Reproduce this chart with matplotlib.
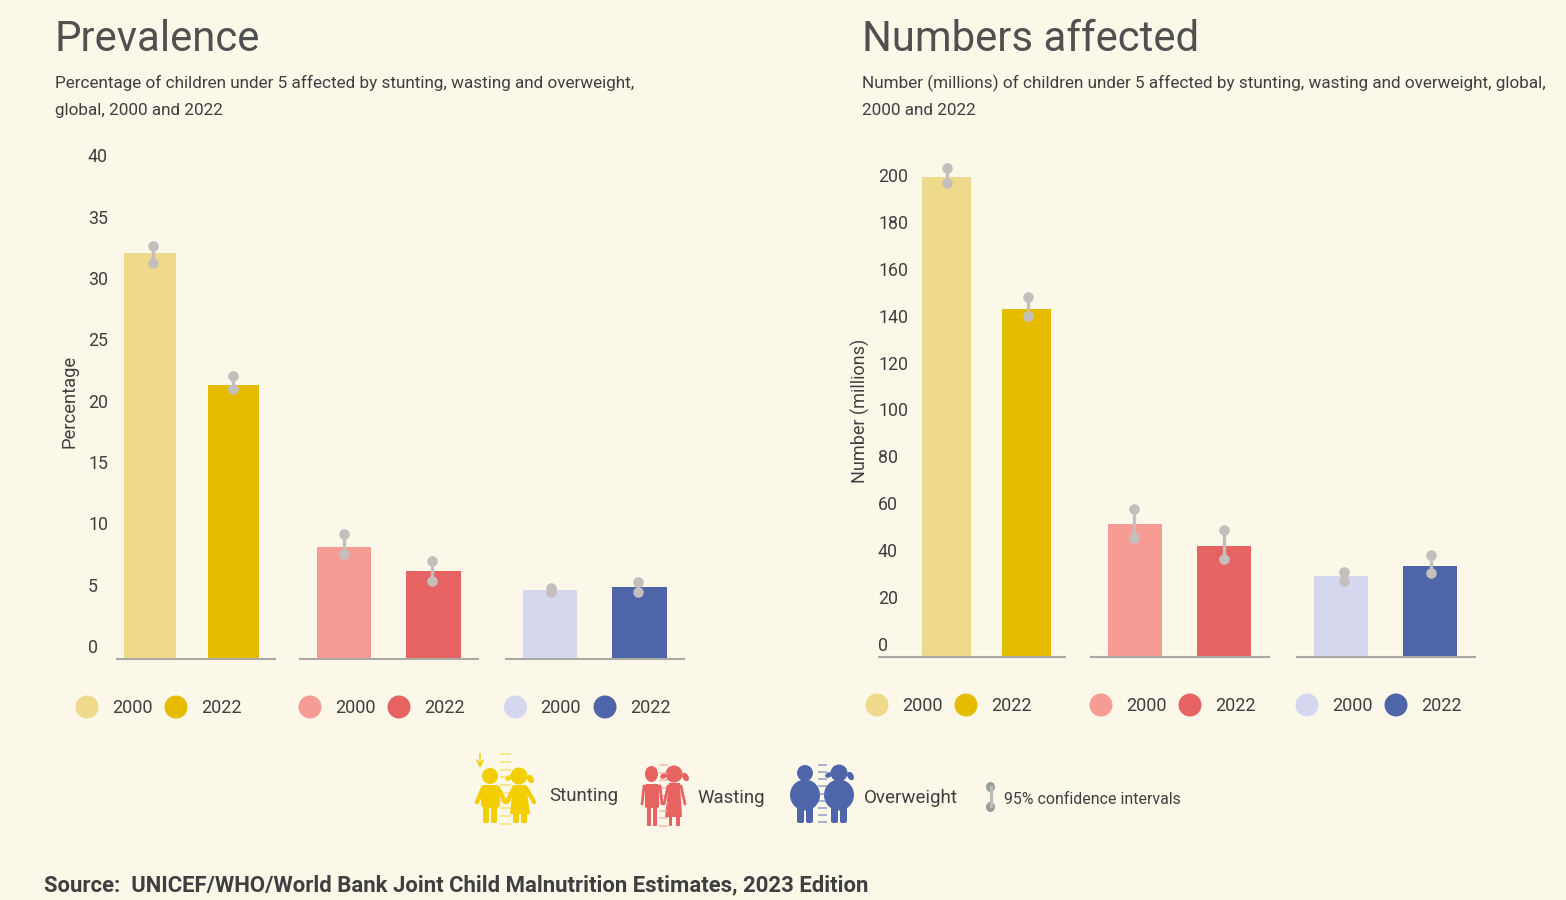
import matplotlib
matplotlib.use('Agg')
import matplotlib.pyplot as plt
from matplotlib.patches import Circle, Ellipse, Polygon, FancyBboxPatch
from matplotlib.transforms import ScaledTranslation

W, H = 1566, 900
BG = '#FBF8EA'
TXT = '#3F3F3F'
plt.rcParams['font.family'] = ['Roboto', 'DejaVu Sans']

years = ['2000', '2022']
colors = ['#EFD98A', '#E5BC00', '#F69C95', '#E66362', '#D5D7EE', '#4F65A9']

prev_values = [33.1, 22.35, 9.13, 7.17, 5.62, 5.87]
prev_hi = [33.65, 23.1, 10.2, 7.95, 5.75, 6.3]
prev_lo = [32.3, 22.0, 8.55, 6.35, 5.5, 5.45]
prev_ticks = [0, 5, 10, 15, 20, 25, 30, 35, 40]

num_values = [204.7, 148.4, 56.7, 47.3, 34.5, 38.8]
num_hi = [208.5, 153.5, 63.0, 54.0, 36.2, 43.5]
num_lo = [202.0, 145.4, 50.7, 42.0, 32.5, 35.8]
num_ticks = [0, 20, 40, 60, 80, 100, 120, 140, 160, 180, 200]

fig = plt.figure(figsize=(W / 100, H / 100), dpi=100, facecolor=BG)


def make_axes(x0, x1, ytop, ybot, scale):
    ax = fig.add_axes([x0 / W, 1 - ybot / H, (x1 - x0) / W, (ybot - ytop) / H])
    ax.set_xlim(x0, x1)
    ax.set_ylim(0, (ybot - ytop) / scale)
    ax.patch.set_alpha(0)
    for s in ax.spines.values():
        s.set_visible(False)
    ax.set_xticks([])
    return ax


def panel(ax, values, hi, lo, ticks, centers, widths, ci_x, segments, label_off):
    ax.bar(centers, values, width=widths, color=colors, linewidth=0, zorder=2)
    for a, b in segments:
        ax.plot([a, b], [0, 0], color='#ABA9A3', lw=1.5, solid_capstyle='butt', zorder=3, clip_on=False)
    ax.vlines(ci_x, lo, hi, color='#C4BFBD', lw=2.4, zorder=4)
    ax.scatter(ci_x + ci_x, hi + lo, s=58, color='#C4BFBD', linewidths=0, zorder=5, clip_on=False)
    ax.set_yticks(ticks)
    ax.set_yticklabels([str(t) for t in ticks])
    ax.tick_params(axis='y', length=0, pad=0, labelsize=12.8, labelcolor=TXT)
    off = ScaledTranslation(0, label_off / 100, fig.dpi_scale_trans)
    for lab in ax.get_yticklabels():
        lab.set_ha('left')
        lab.set_va('center')
        lab.set_transform(lab.get_transform() + off)


ax1 = make_axes(88, 700, 140, 659, 12.27)
panel(ax1, prev_values, prev_hi, prev_lo, prev_ticks,
      [150, 233.5, 344, 433.5, 550, 639.5], [52, 51, 54, 55, 54, 55],
      [152.5, 233, 344, 432, 551, 638],
      [(116, 276), (299, 479), (505, 685)], 11)

ax2 = make_axes(878, 1490, 150, 657, 2.345)
panel(ax2, num_values, num_hi, num_lo, num_ticks,
      [946.5, 1026.5, 1135, 1224, 1341, 1430], [49, 49, 54, 54, 54, 54],
      [947, 1028, 1134, 1224, 1344, 1431],
      [(878, 1066), (1090, 1270), (1296, 1476)], 11)

# overlay in pixel coordinates
ov = fig.add_axes([0, 0, 1, 1], zorder=10)
ov.set_xlim(0, W)
ov.set_ylim(H, 0)
ov.axis('off')
ov.patch.set_alpha(0)

ov.text(54, 51, 'Prevalence', fontsize=30.2, color='#505050', va='baseline')
ov.text(862, 51, 'Numbers affected', fontsize=30.2, color='#505050', va='baseline')
ov.text(55, 88, 'Percentage of children under 5 affected by stunting, wasting and overweight,',
        fontsize=12.35, color=TXT, va='baseline')
ov.text(55, 115, 'global, 2000 and 2022', fontsize=12.35, color=TXT, va='baseline')
ov.text(862, 88, 'Number (millions) of children under 5 affected by stunting, wasting and overweight, global,',
        fontsize=12.35, color=TXT, va='baseline')
ov.text(862, 115, '2000 and 2022', fontsize=12.35, color=TXT, va='baseline')
ov.text(70, 401.5, 'Percentage', fontsize=13.2, color=TXT, rotation=90, ha='center', va='center')
ov.text(860, 410.5, 'Number (millions)', fontsize=13, color=TXT, rotation=90, ha='center', va='center')


def legend_row(xs, y, cols):
    for i, (x, c) in enumerate(zip(xs, cols)):
        ov.add_patch(Ellipse((x, y), 23, 23, color=c, lw=0))
        ov.text(x + 25, y + 1, years[i % 2], fontsize=13, color=TXT, va='center')


legend_row([87, 176], 707, colors[:2])
legend_row([310, 399], 707, colors[2:4])
legend_row([515.5, 605], 707, colors[4:])
legend_row([877, 966], 705, colors[:2])
legend_row([1101, 1190], 705, colors[2:4])
legend_row([1307, 1396], 705, colors[4:])


def ln(pts, c, lw):
    xs, ys = zip(*pts)
    ov.plot(xs, ys, color=c, lw=lw, solid_capstyle='round', solid_joinstyle='round')


def ruler(x0, x1, y0, y1, c, n):
    for i in range(n):
        y = y0 + (y1 - y0) * i / (n - 1)
        ov.plot([x0, x1], [y, y], color=c, lw=1.1, alpha=0.75, solid_capstyle='butt')


def box(x0, y0, x1, y1, c, r=4):
    ov.add_patch(FancyBboxPatch((x0 + r, y0 + r), x1 - x0 - 2 * r, y1 - y0 - 2 * r,
                                boxstyle=f'round,pad={r},rounding_size={r}', color=c, lw=0))


def pony(cx, cy, r, c):
    ov.add_patch(Ellipse((cx - r - 2, cy + 2), 7, 5, angle=-30, color=c, lw=0))
    ov.add_patch(Ellipse((cx + r + 3, cy + 3), 6, 9, angle=-30, color=c, lw=0))


# Stunting
YEL = '#F4CF00'
ruler(500, 511, 754, 824, '#F6DA50', 10)
ov.annotate('', xy=(480, 768), xytext=(480, 754),
            arrowprops=dict(arrowstyle='->', color=YEL, lw=1.1, mutation_scale=11, shrinkA=0, shrinkB=0))
ov.add_patch(Circle((490, 776), 8, color=YEL, lw=0))
box(481, 785, 500, 808, YEL)
ln([(483, 788), (477, 802)], YEL, 3.2)
ln([(498, 788), (505, 802)], YEL, 3.2)
box(483, 805, 489, 823, YEL, 2)
box(491, 805, 497, 823, YEL, 2)
ov.add_patch(Circle((519, 776), 8.5, color=YEL, lw=0))
pony(519, 776, 8.5, YEL)
ov.add_patch(Polygon([(513, 785), (526, 785), (530, 814), (510, 814)], color=YEL, lw=0))
ln([(514, 788), (507, 802)], YEL, 3.2)
ln([(526, 788), (534, 802)], YEL, 3.2)
box(513, 810, 519, 823, YEL, 2)
box(521, 810, 527, 823, YEL, 2)
ov.text(549, 796, 'Stunting', fontsize=13.4, color=TXT, va='center')

# Wasting
RED = '#E66362'
ruler(659, 668, 765, 826, '#F2A5A3', 9)
ov.add_patch(Ellipse((651.5, 774), 13, 16, color=RED, lw=0))
box(645, 784, 659, 808, RED, 2)
ln([(644, 786), (642, 804)], RED, 2)
ln([(660, 786), (662, 804)], RED, 2)
box(647, 805, 651, 826, RED, 1)
box(653, 805, 657, 826, RED, 1)
ov.add_patch(Circle((674, 774), 8.5, color=RED, lw=0))
pony(674, 774, 8.5, RED)
ov.add_patch(Polygon([(669, 783), (680, 783), (682, 817), (665, 817)], color=RED, lw=0))
ln([(668, 786), (664, 804)], RED, 2)
ln([(681, 786), (685, 804)], RED, 2)
box(669, 815, 672, 826, RED, 1)
box(676, 815, 680, 826, RED, 1)
ov.text(697, 798, 'Wasting', fontsize=13.4, color=TXT, va='center')

# Overweight
BLU = '#4F65A9'
ruler(818, 827, 765, 822, '#6F82BC', 9)
ov.add_patch(Circle((805, 773), 8, color=BLU, lw=0))
ov.add_patch(Ellipse((805, 795), 30, 31, color=BLU, lw=0))
box(797, 803, 804, 823, BLU, 2)
box(806, 803, 813, 823, BLU, 2)
ov.add_patch(Circle((839, 773), 8.5, color=BLU, lw=0))
pony(839, 773, 8.5, BLU)
ov.add_patch(Ellipse((839, 795), 30, 31, color=BLU, lw=0))
box(831, 803, 838, 823, BLU, 2)
box(840, 803, 847, 823, BLU, 2)
ov.text(864, 798, 'Overweight', fontsize=13.5, color=TXT, va='center')

# CI key
GRY = '#9B9B9B'
ov.plot([990.5, 990.5], [787, 806], color='#BDBBB8', lw=2.4)
ov.add_patch(Ellipse((990.5, 787), 9, 10, color=GRY, lw=0))
ov.add_patch(Ellipse((990.5, 807), 9, 10, color=GRY, lw=0))
ov.text(1004, 799, '95% confidence intervals', fontsize=11.4, color=TXT, va='center')

ov.text(44, 891, 'Source:  UNICEF/WHO/World Bank Joint Child Malnutrition Estimates, 2023 Edition',
        fontsize=15.95, fontweight='bold', color=TXT, va='baseline')

fig.savefig('out.png', dpi=100, facecolor=BG)
